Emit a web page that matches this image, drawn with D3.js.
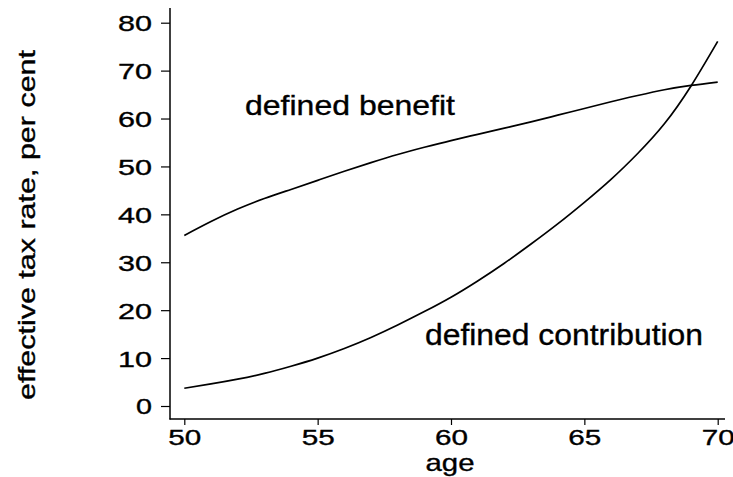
<!DOCTYPE html>
<html><head><meta charset="utf-8">
<script src="https://cdn.jsdelivr.net/npm/d3@7"></script>
<style>body{margin:0;background:#fff}svg{display:block}text{font-family:"Liberation Sans",Arial,sans-serif;fill:#000;stroke:#000;stroke-width:0.35px}</style>
</head><body><svg id="c" width="733" height="477"></svg>
<script>
const ages = [50,51,52,53,54,55,56,57,58,59,60,61,62,63,64,65,66,67,68,69,70];
const definedBenefit = [35.6,38.5,41.1,43.3,45.2,47.1,49.0,50.8,52.5,54.0,55.4,56.7,58.0,59.3,60.7,62.1,63.5,64.8,66.0,66.9,67.6];
const definedContribution = [3.7,4.6,5.6,6.8,8.3,10.0,12.0,14.3,16.9,19.7,22.7,26.1,29.8,33.8,38.0,42.5,47.3,52.7,58.9,66.8,76.1];
const xTicks = [50,55,60,65,70];
const yTicks = [0,10,20,30,40,50,60,70,80];
const seriesLabels = ["defined benefit","defined contribution"];
const xTitle = "age";
const yTitle = "effective tax rate, per cent";

const svg = d3.select("#c");
const x = d3.scaleLinear().domain([50,70]).range([184.3,717.7]);
const y = d3.scaleLinear().domain([0,80]).range([406,22.7]);

// axis lines
svg.append("line").attr("x1",170).attr("x2",170).attr("y1",8).attr("y2",419.5).attr("stroke","#000").attr("stroke-width",1.5);
svg.append("line").attr("x1",169.5).attr("x2",725).attr("y1",419).attr("y2",419).attr("stroke","#000").attr("stroke-width",1.5);

const ya = svg.append("g").attr("transform","translate(170,0)")
  .call(d3.axisLeft(y).tickValues(yTicks).tickSize(9).tickPadding(0).tickSizeOuter(0));
ya.select(".domain").remove();
ya.selectAll(".tick line").attr("stroke-width",1.2);
ya.selectAll(".tick text").attr("font-size",22).attr("font-family","Liberation Sans, Arial, sans-serif")
  .attr("x",-18).attr("dy","0.36em")
  .each(function(d){ const s=String(d); d3.select(this).attr("textLength", s.length===1?16:34).attr("lengthAdjust","spacingAndGlyphs"); });

const xa = svg.append("g").attr("transform","translate(0,419)")
  .call(d3.axisBottom(x).tickValues(xTicks).tickSize(6).tickSizeOuter(0));
xa.select(".domain").remove();
xa.selectAll(".tick line").attr("stroke-width",1.2);
xa.selectAll(".tick text").attr("font-size",22).attr("font-family","Liberation Sans, Arial, sans-serif")
  .attr("y",26).attr("dy",0)
  .attr("textLength",33).attr("lengthAdjust","spacingAndGlyphs");

const line = d3.line().x((d,i)=>x(ages[i])).y(d=>y(d)).curve(d3.curveNatural);
[definedBenefit, definedContribution].forEach(s=>{
  svg.append("path").datum(s).attr("d",line).attr("fill","none").attr("stroke","#000").attr("stroke-width",1.7);
});

svg.append("text").attr("x",245).attr("y",115).attr("font-size",28)
  .attr("textLength",210).attr("lengthAdjust","spacingAndGlyphs").text(seriesLabels[0]);
svg.append("text").attr("x",425).attr("y",345).attr("font-size",30)
  .attr("textLength",278).attr("lengthAdjust","spacingAndGlyphs").text(seriesLabels[1]);

svg.append("text").attr("x",450).attr("y",471).attr("text-anchor","middle").attr("font-size",24)
  .attr("textLength",49).attr("lengthAdjust","spacingAndGlyphs").text(xTitle);
svg.append("text").attr("transform","translate(35,225) rotate(-90)").attr("text-anchor","middle").attr("font-size",24)
  .attr("textLength",350).attr("lengthAdjust","spacingAndGlyphs").text(yTitle);
</script></body></html>
